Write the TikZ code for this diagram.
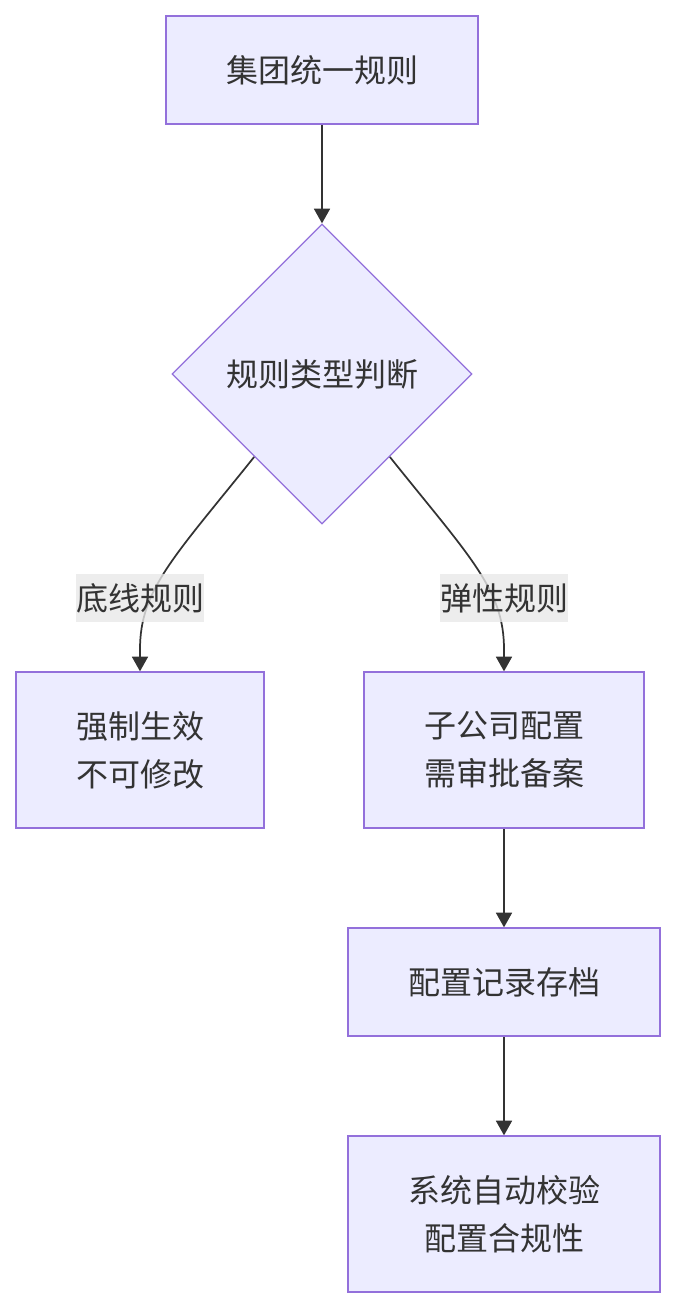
\documentclass[tikz,border=0pt]{standalone}
\usepackage{fontspec}
\setmainfont{Noto Sans CJK SC}
\usetikzlibrary{shapes.geometric, arrows.meta, positioning, calc, backgrounds}
\definecolor{boxfill}{HTML}{ECECFF}
\definecolor{boxline}{HTML}{9370DB}
\definecolor{inktext}{HTML}{333333}
\definecolor{labelbg}{HTML}{E8E8E8}

\begin{document}
\begin{tikzpicture}[
  x=0.75pt, y=-0.75pt,
  stepbox/.style={draw=boxline, fill=boxfill, line width=1pt, align=center, text=inktext, inner sep=0pt, font=\fontsize{24}{36}\selectfont},
  decide/.style={stepbox, diamond, aspect=1, minimum width=225pt, minimum height=225pt},
  tag/.style={fill=labelbg, fill opacity=0.8, text opacity=1, text=inktext, inner sep=0pt, minimum width=96pt, minimum height=36pt, font=\fontsize{24}{36}\selectfont},
  arr/.style={-{Triangle[length=11pt, width=12pt]}, line width=1.3pt, draw=inktext},
]
  \useasboundingbox (0,0) rectangle (676,1308);

  \node[stepbox, minimum width=234pt, minimum height=81pt] (rule) at (322,70) {集团统一规则};
  \node[decide] (kind) at (322,374) {规则类型判断};
  \node[stepbox, minimum width=186pt, minimum height=117pt] (fixed) at (140,750) {强制生效\\不可修改};
  \node[stepbox, minimum width=210pt, minimum height=117pt] (flex) at (504,750) {子公司配置\\需审批备案};
  \node[stepbox, minimum width=234pt, minimum height=81pt] (record) at (504,982) {配置记录存档};
  \node[stepbox, minimum width=234pt, minimum height=117pt] (check) at (504,1214) {系统自动校验\\配置合规性};

  \node[tag] (base) at (140,598) {底线规则};
  \node[tag] (soft) at (504,598) {弹性规则};

  \coordinate (kl) at ($(kind.west)!0.55!(kind.south)$);
  \coordinate (kr) at ($(kind.east)!0.55!(kind.south)$);

  \begin{scope}[on background layer]
    \draw[arr] (rule) -- (kind);
    \draw[arr] (kl) .. controls ($(kl)+(-80,100)$) and ($(fixed.north)+(0,-82)$) .. ($(fixed.north)+(0,-22)$) -- (fixed.north);
    \draw[arr] (kr) .. controls ($(kr)+(80,100)$) and ($(flex.north)+(0,-82)$) .. ($(flex.north)+(0,-22)$) -- (flex.north);
    \draw[arr] (flex) -- (record);
    \draw[arr] (record) -- (check);
  \end{scope}
\end{tikzpicture}
\end{document}
